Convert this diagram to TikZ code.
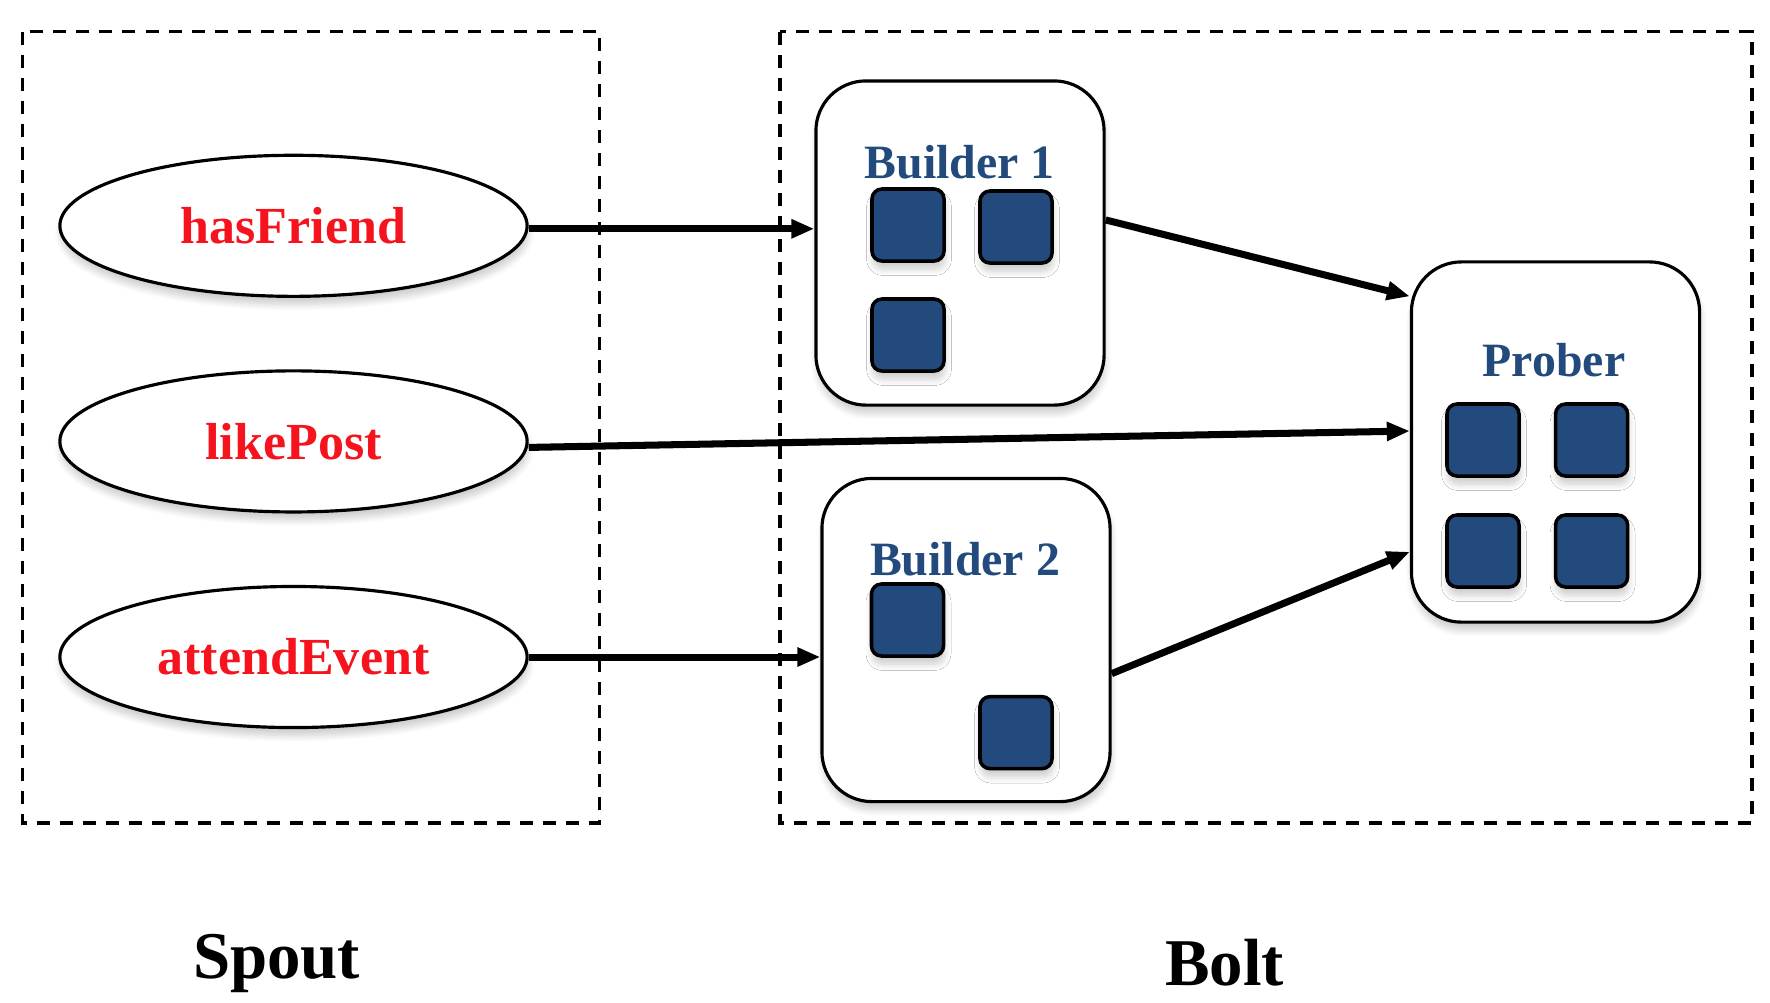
\documentclass[tikz,border=0pt]{standalone}
\usepackage{fontspec}
\setmainfont{Liberation Serif}
\usetikzlibrary{arrows.meta, shapes.geometric, shadows.blur}

\definecolor{taskblue}{RGB}{35,74,124}
\definecolor{streamred}{RGB}{245,20,30}

\begin{document}
\begin{tikzpicture}[x=0.01cm, y=-0.01cm,
    every node/.style={font=\bfseries},
    soft/.style={blur shadow={shadow xshift=0.1mm, shadow yshift=-0.8mm, shadow blur steps=8, shadow opacity=20}},
    region/.style={dashed, dash pattern=on 1.3mm off 1mm, line width=0.95pt},
    stream/.style={ellipse, draw, fill=white, soft, line width=0.9pt, minimum width=46.7mm, minimum height=14.1mm, text=streamred, font=\bfseries\fontsize{14.8}{17}\selectfont},
    worker/.style={rectangle, rounded corners=5mm, draw, fill=white, soft, line width=0.9pt, minimum width=28.8mm},
    wlabel/.style={text=taskblue, font=\bfseries\fontsize{13.6}{16}\selectfont},
    task/.style={rectangle, rounded corners=1mm, draw, fill=taskblue, soft, line width=1pt, minimum size=7.2mm},
    flow/.style={-{Triangle[length=2.3mm, width=1.8mm]}, line width=2pt},
    side/.style={font=\bfseries\fontsize{19}{22}\selectfont}]

    \useasboundingbox (0,0) rectangle (1770,1002);

    % Spout and Bolt regions
    \draw[region] (22.6,31.6) rectangle (599.4,823);
    \draw[region] (780,31.6) rectangle (1752,823);

    % streams
    \node[stream] (hasfriend) at (293.5,225.8) {hasFriend};
    \node[stream] (likepost) at (293.5,441.4) {likePost};
    \node[stream] (attendevent) at (293.5,657) {attendEvent};

    % Builder 1
    \node[worker, minimum height=32.4mm] (builder1) at (960,243) {};
    \node[wlabel] (b1label) at (959.5,162.5) {Builder 1};
    \node[task] (b1t1) at (908,225) {};
    \node[task] (b1t2) at (1016,227) {};
    \node[task] (b1t3) at (908,335) {};

    % Builder 2
    \node[worker, minimum height=32.3mm] (builder2) at (966,640) {};
    \node[wlabel] (b2label) at (965,559) {Builder 2};
    \node[task] (b2t1) at (907.5,620) {};
    \node[task] (b2t2) at (1016,732.6) {};

    % Prober
    \node[worker, minimum height=36mm] (prober) at (1555.5,442) {};
    \node[wlabel] (plabel) at (1554,360) {Prober};
    \foreach \px/\py [count=\i] in {1483/440, 1591.6/440, 1483/551, 1591.6/551}
        \node[task] (pt\i) at (\px,\py) {};

    % connections
    \draw[flow] ([yshift=-0.3mm]hasfriend.east) -- ([yshift=-0.3mm]hasfriend.east -| builder1.west);
    \draw[flow] ([yshift=-0.6mm]likepost.east) -- ([yshift=1.1mm]prober.west);
    \draw[flow] (attendevent.east) -- (attendevent.east -| builder2.west);
    \draw[flow] (builder1.9) -- (prober.135);
    \draw[flow] (builder2.-13) -- (prober.217);

    % region names
    \node[side] (spout) at (276.6,963) {Spout};
    \node[side] (bolt) at (1224.7,963) {Bolt};

\end{tikzpicture}
\end{document}
